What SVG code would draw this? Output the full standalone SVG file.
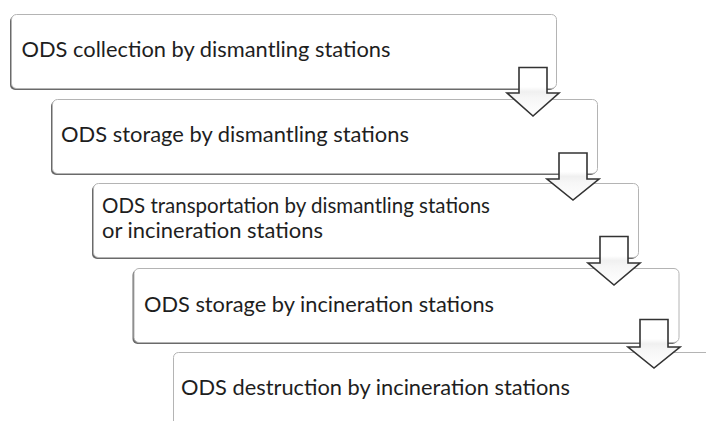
<svg xmlns="http://www.w3.org/2000/svg" width="706" height="421" viewBox="0 0 706 421">
  <style>
    .shadow { fill: #6a6a6a; }
    .box { fill: #ffffff; stroke: #b4b4b4; stroke-width: 1; }
    .label { font-family: Lato, "Open Sans", "Liberation Sans", sans-serif; font-size: 20.5px; fill: #1e1e1e; }
    .arrow { fill: url(#arrowFill); stroke: #333333; stroke-width: 1.6; stroke-linejoin: miter; }
  </style>
  <defs>
    <linearGradient id="arrowFill" x1="0" y1="0" x2="0" y2="1">
      <stop offset="0" stop-color="#ffffff"/>
      <stop offset="0.4" stop-color="#ffffff"/>
      <stop offset="0.5" stop-color="#f0f0f0"/>
      <stop offset="0.62" stop-color="#f6f6f6"/>
      <stop offset="1" stop-color="#ffffff"/>
    </linearGradient>
  </defs>
  <rect width="706" height="421" fill="#ffffff"/>

  <g id="node1">
    <rect class="shadow" x="10" y="16" width="545" height="74" rx="5"/>
    <rect class="box" x="11.5" y="14.5" width="545" height="74" rx="5"/>
    <text class="label" x="21.5" y="57" textLength="369" lengthAdjust="spacingAndGlyphs">ODS collection by dismantling stations</text>
  </g>

  <g id="node2">
    <rect class="shadow" x="51" y="101" width="545" height="74" rx="5"/>
    <rect class="box" x="52.5" y="99.5" width="545" height="74" rx="5"/>
    <text class="label" x="61" y="142" textLength="348" lengthAdjust="spacingAndGlyphs">ODS storage by dismantling stations</text>
  </g>

  <g id="node3">
    <rect class="shadow" x="92" y="185" width="545" height="74" rx="5"/>
    <rect class="box" x="93.5" y="183.5" width="545" height="74" rx="5"/>
    <text class="label" x="102" y="213" textLength="388" lengthAdjust="spacingAndGlyphs">ODS transportation by dismantling stations</text>
    <text class="label" x="102" y="238" textLength="221" lengthAdjust="spacingAndGlyphs">or incineration stations</text>
  </g>

  <g id="node4">
    <rect class="shadow" x="132.5" y="270" width="545" height="74" rx="5"/>
    <rect class="box" x="134" y="268.5" width="545" height="74" rx="5"/>
    <text class="label" x="144" y="312" textLength="350" lengthAdjust="spacingAndGlyphs">ODS storage by incineration stations</text>
  </g>

  <g id="node5">
    <rect class="box" x="173.5" y="352.5" width="545" height="74" rx="5"/>
    <text class="label" x="181" y="395" textLength="389" lengthAdjust="spacingAndGlyphs">ODS destruction by incineration stations</text>
  </g>

  <g id="connectors">
    <path class="arrow" d="M519,67.5 H547 V93 H559 L533,116 L507,93 H519 Z"/>
    <path class="arrow" d="M559,153 H587 V179 H599 L573,200 L547,179 H559 Z"/>
    <path class="arrow" d="M600,236.5 H628 V263 H640 L614,285 L588,263 H600 Z"/>
    <path class="arrow" d="M640,319.5 H668 V347 H680 L654,368 L628,347 H640 Z"/>
  </g>
</svg>
